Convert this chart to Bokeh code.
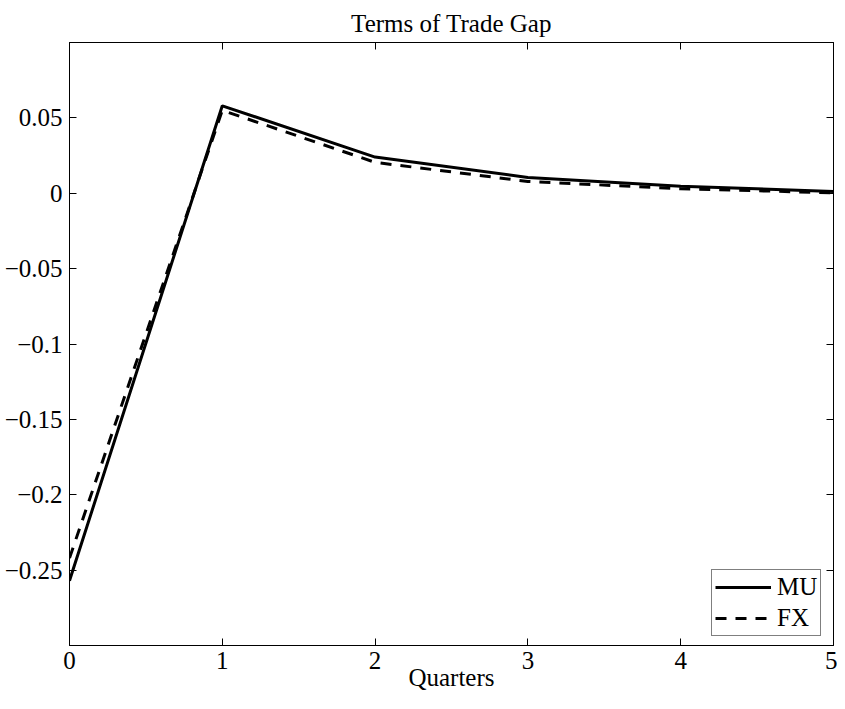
from bokeh.plotting import figure
from bokeh.models import (LinearAxis, FixedTicker, Range1d, Legend, LegendItem,
                          CustomJSTickFormatter, Title)
from bokeh.embed import file_html
from bokeh.resources import INLINE

quarters = [0, 1, 2, 3, 4, 5]
mu = [-0.257, 0.058, 0.024, 0.0105, 0.0047, 0.0012]
fx = [-0.242, 0.055, 0.0205, 0.0078, 0.003, 0.0003]
x_ticks = [0, 1, 2, 3, 4, 5]
y_ticks = [-0.25, -0.2, -0.15, -0.1, -0.05, 0, 0.05]
title_text = "Terms of Trade Gap"
x_label = "Quarters"

FONT = "Liberation Serif"
FS = "25px"

p = figure(width=837, height=701, output_backend="svg", toolbar_location=None,
           x_range=Range1d(0, 5), y_range=Range1d(-0.3, 0.1),
           min_border_left=69, min_border_right=4, min_border_top=42,
           min_border_bottom=56, x_axis_location=None, y_axis_location=None)
p.background_fill_color = "white"
p.border_fill_color = "white"
p.outline_line_color = "black"
p.outline_line_width = 1
p.xgrid.visible = False
p.ygrid.visible = False

fmt = CustomJSTickFormatter(code="""
const v = Math.round(tick*100)/100;
return v.toString().replace('-', '\\u2212');
""")
blank = CustomJSTickFormatter(code="return '';")

def style_axis(ax, ticks, labels=True):
    ax.ticker = FixedTicker(ticks=ticks)
    ax.minor_tick_line_color = None
    ax.major_tick_in = 7
    ax.major_tick_out = 0
    ax.major_tick_line_color = "black"
    ax.major_tick_line_width = 1
    ax.axis_line_color = "black"
    ax.axis_line_width = 1
    ax.major_label_text_font = FONT
    if labels:
        ax.major_label_text_color = "black"
        ax.major_label_text_font_size = FS
    else:
        ax.major_label_text_color = None
        ax.major_label_text_font_size = "1px"
        ax.major_label_standoff = 0

xb = LinearAxis(formatter=fmt)
style_axis(xb, x_ticks)
xb.major_label_standoff = 6
xb.axis_label = x_label
xb.axis_label_text_font = FONT
xb.axis_label_text_font_size = FS
xb.axis_label_text_font_style = "normal"
xb.axis_label_text_color = "black"
xb.axis_label_standoff = -8
p.add_layout(xb, "below")

yl = LinearAxis(formatter=fmt)
style_axis(yl, y_ticks)
yl.major_label_standoff = 7
p.add_layout(yl, "left")

xa = LinearAxis(formatter=blank)
style_axis(xa, x_ticks, labels=False)
p.add_layout(xa, "above")

yr = LinearAxis(formatter=blank)
style_axis(yr, y_ticks, labels=False)
p.add_layout(yr, "right")

t = Title(text=title_text, align="center", offset=1, text_font=FONT,
          text_font_size=FS, text_font_style="normal", text_color="black",
          standoff=11)
p.add_layout(t, "above")

r_mu = p.line(quarters, mu, line_color="black", line_width=3)
r_fx = p.line(quarters, fx, line_color="black", line_width=3, line_dash="11 9")

legend = Legend(items=[LegendItem(label="MU", renderers=[r_mu]),
                       LegendItem(label="FX", renderers=[r_fx])],
                location=(642, 9))
legend.label_text_font = FONT
legend.label_text_font_size = FS
legend.label_text_color = "black"
legend.glyph_width = 56
legend.glyph_height = 28
legend.label_height = 28
legend.label_standoff = 6
legend.padding = 3
legend.spacing = 3
legend.margin = 0
legend.border_line_color = "black"
legend.border_line_width = 1
legend.background_fill_color = "white"
legend.background_fill_alpha = 1
p.add_layout(legend, "center")

open("out.html", "w").write(file_html(p, INLINE))
